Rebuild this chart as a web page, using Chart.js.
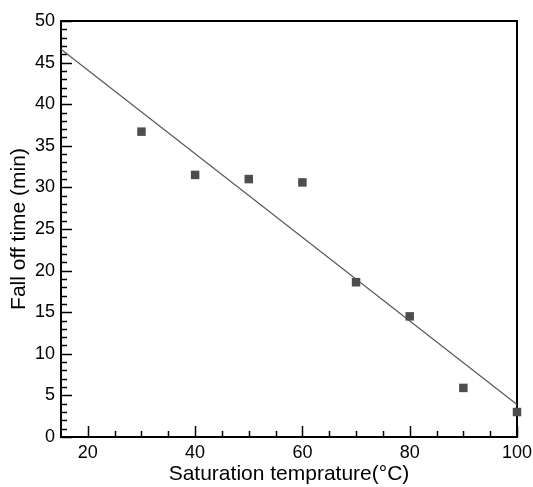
<!DOCTYPE html>
<html>
<head>
<meta charset="utf-8">
<script src="https://cdn.jsdelivr.net/npm/chart.js@4/dist/chart.umd.min.js"></script>
<style>
  html, body { margin: 0; padding: 0; background: #fff; }
  #wrap { width: 533px; height: 487px; }
</style>
</head>
<body>
<div id="wrap"><canvas id="chart" width="533" height="487"></canvas></div>
<script>
/* ---------- data ---------- */
const temps = [30, 40, 50, 60, 70, 80, 90, 100];
const fallOff = [36.7, 31.5, 31.0, 30.6, 18.6, 14.5, 5.9, 3.0];

// fitted line, end points as drawn
const fitX = [15, 100];
const fitY = [46.6, 3.9];

const xTicks = [20, 40, 60, 80, 100];
const xMinorStep = 5;
const yMinorStep = 1;

/* ---------- frame + inward ticks ---------- */
const frameTicks = {
    id: 'frameTicks',
    beforeDatasetsDraw(chart) {
        const { ctx, chartArea: a, scales } = chart;
        const x = scales.x, y = scales.y;
        ctx.save();
        ctx.strokeStyle = '#000';
        ctx.lineWidth = 1.5;

        // minor + major ticks on bottom axis
        ctx.beginPath();
        for (let v = 20; v <= 100; v += xMinorStep) {
            const px = Math.round(x.getPixelForValue(v)) + 0.5;
            const len = (v % 20 === 0) ? 11 : 6;
            ctx.moveTo(px, a.bottom);
            ctx.lineTo(px, a.bottom - len);
        }
        // minor + major ticks on left axis
        for (let v = 0; v <= 50; v += yMinorStep) {
            const py = Math.round(y.getPixelForValue(v)) + 0.5;
            const len = (v % 5 === 0) ? 11 : 6;
            ctx.moveTo(a.left, py);
            ctx.lineTo(a.left + len, py);
        }
        ctx.stroke();

        ctx.lineWidth = 2;
        ctx.strokeRect(a.left, a.top, a.right - a.left, a.bottom - a.top);
        ctx.restore();
    }
};

const ctx = document.getElementById('chart');

new Chart(ctx, {
    type: 'scatter',
    data: {
        datasets: [
            {
                data: temps.map((t, i) => ({ x: t, y: fallOff[i] })),
                pointStyle: 'rect',
                pointRadius: 6,
                backgroundColor: '#4d4d4d',
                borderColor: '#4d4d4d',
                borderWidth: 0,
                clip: false
            },
            {
                type: 'line',
                data: fitX.map((t, i) => ({ x: t, y: fitY[i] })),
                borderColor: '#555',
                borderWidth: 1.2,
                pointRadius: 0,
                fill: false
            }
        ]
    },
    options: {
        responsive: false,
        animation: false,
        layout: { padding: { top: 21, right: 16, left: 0, bottom: 0 } },
        plugins: {
            legend: { display: false },
            tooltip: { enabled: false }
        },
        scales: {
            x: {
                type: 'linear',
                min: 15,
                max: 100,
                afterBuildTicks: s => { s.ticks = xTicks.map(v => ({ value: v })); },
                afterFit: s => {
                    s.height = 50;
                    s.paddingLeft = 0;
                    s.paddingRight = 0;
                },
                grid: { display: false, drawTicks: false },
                border: { display: false },
                ticks: {
                    color: '#000',
                    padding: 5,
                    maxRotation: 0,
                    font: { family: 'Liberation Sans', size: 18 }
                },
                title: {
                    display: true,
                    text: 'Saturation temprature(°C)',
                    color: '#000',
                    padding: { top: 0, bottom: 0 },
                    font: { family: 'Liberation Sans', size: 21 }
                }
            },
            y: {
                min: 0,
                max: 50,
                afterFit: s => {
                    s.width = 61;
                    s.paddingTop = 0;
                    s.paddingBottom = 0;
                },
                grid: { display: false, drawTicks: false },
                border: { display: false },
                ticks: {
                    stepSize: 5,
                    color: '#000',
                    padding: 6,
                    font: { family: 'Liberation Sans', size: 18 }
                },
                title: {
                    display: true,
                    text: 'Fall off time (min)',
                    color: '#000',
                    padding: { top: 7, bottom: 0 },
                    font: { family: 'Liberation Sans', size: 21 }
                }
            }
        }
    },
    plugins: [frameTicks]
});
</script>
</body>
</html>
